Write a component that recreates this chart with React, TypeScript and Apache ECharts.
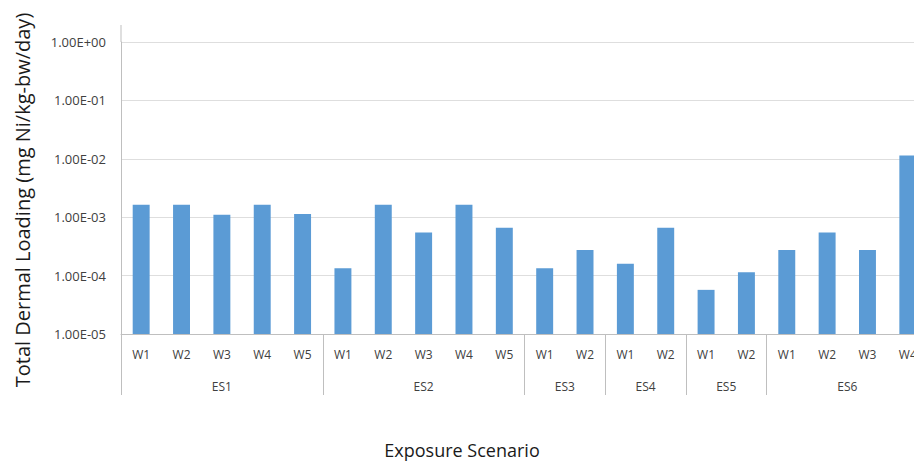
import React, { useEffect, useRef } from "react";
import * as echarts from "echarts";

// Well labels along the lower axis, in plotting order
const categories = [
  "W1", "W2", "W3", "W4", "W5",
  "W1", "W2", "W3", "W4", "W5",
  "W1", "W2",
  "W1", "W2",
  "W1", "W2",
  "W1", "W2", "W3", "W4",
];

// Exposure scenario groups and how many wells each one spans
const groupNames = ["ES1", "ES2", "ES3", "ES4", "ES5", "ES6"];
const groupSizes = [5, 5, 2, 2, 2, 4];

// Total dermal loading, mg Ni/kg-bw/day
const loadings = [
  1.63e-3, 1.63e-3, 1.1e-3, 1.63e-3, 1.14e-3,
  1.34e-4, 1.63e-3, 5.45e-4, 1.63e-3, 6.6e-4,
  1.34e-4, 2.75e-4,
  1.59e-4, 6.6e-4,
  5.7e-5, 1.14e-4,
  2.75e-4, 5.45e-4, 2.75e-4, 1.14e-2,
];

const Y_MIN = 1e-5;
const Y_MAX = 1;

const FONT = "'Open Sans', sans-serif";
const LABEL_COLOR = "#404040";
const LINE_COLOR = "#bfbfbf";

function sciLabel(v: number): string {
  const e = Math.round(Math.log10(v));
  const sign = e < 0 ? "-" : "+";
  return `1.00E${sign}${String(Math.abs(e)).padStart(2, "0")}`;
}

export default function App() {
  const ref = useRef<HTMLDivElement>(null);

  useEffect(() => {
    if (!ref.current) return;
    const chart = echarts.init(ref.current, null, { renderer: "svg" });

    // group boundaries and centres in category units
    const bounds: number[] = [0];
    groupSizes.forEach((n) => bounds.push(bounds[bounds.length - 1] + n));
    const centers = groupSizes.map((n, i) => bounds[i] + n / 2);
    const total = bounds[bounds.length - 1];

    const data = loadings.map((v, i) => [i, v]);

    chart.setOption({
      animation: false,
      backgroundColor: "#ffffff",
      grid: { left: 121, right: 0, top: 42, bottom: 130, containLabel: false },
      xAxis: [
        {
          type: "category",
          data: categories,
          position: "bottom",
          axisLine: { show: true, lineStyle: { color: LINE_COLOR, width: 1 } },
          axisTick: { show: false },
          axisLabel: {
            interval: 0,
            margin: 14,
            color: LABEL_COLOR,
            fontFamily: FONT,
            fontSize: 12,
          },
          splitLine: { show: false },
        },
        {
          type: "value",
          min: 0,
          max: total,
          position: "bottom",
          axisLine: { show: false },
          splitLine: { show: false },
          axisTick: {
            show: true,
            inside: false,
            length: 61,
            customValues: bounds,
            lineStyle: { color: LINE_COLOR, width: 1 },
          },
          axisLabel: {
            show: true,
            margin: 46,
            customValues: centers,
            formatter: (v: number) => {
              const i = centers.findIndex((c) => Math.abs(c - v) < 1e-6);
              return i >= 0 ? groupNames[i] : "";
            },
            color: LABEL_COLOR,
            fontFamily: FONT,
            fontSize: 12,
          },
        },
      ],
      yAxis: {
        type: "log",
        logBase: 10,
        min: Y_MIN,
        max: Y_MAX,
        splitNumber: 5,
        axisLine: { show: true, lineStyle: { color: LINE_COLOR, width: 1 } },
        axisTick: { show: false },
        axisLabel: {
          margin: 15,
          color: LABEL_COLOR,
          fontFamily: FONT,
          fontSize: 13,
          formatter: (v: number) => sciLabel(v),
        },
        splitLine: { show: true, lineStyle: { color: "#dedede", width: 1 } },
      },
      series: [
        {
          type: "custom",
          xAxisIndex: 0,
          yAxisIndex: 0,
          data,
          encode: { x: 0, y: 1 },
          renderItem: (_params: any, api: any) => {
            const idx = api.value(0);
            const top = api.coord([idx, api.value(1)]);
            const base = api.coord([idx, Y_MIN]);
            const w = api.size([1, api.value(1)])[0] * 0.42;
            return {
              type: "rect",
              shape: { x: top[0] - w / 2, y: top[1], width: w, height: base[1] - top[1] },
              style: { fill: "#5b9bd5" },
            };
          },
        },
      ],
      graphic: [
        {
          type: "line",
          shape: { x1: 121, y1: 25, x2: 121, y2: 42 },
          style: { stroke: LINE_COLOR, lineWidth: 1 },
          silent: true,
        },
        {
          type: "text",
          x: 22,
          y: 200,
          rotation: Math.PI / 2,
          style: {
            text: "Total Dermal Loading (mg Ni/kg-bw/day)",
            fontFamily: FONT,
            fontSize: 20,
            fill: "#1a1a1a",
            textAlign: "center",
            textVerticalAlign: "middle",
          },
        },
        {
          type: "text",
          x: 462,
          y: 450,
          style: {
            text: "Exposure Scenario",
            fontFamily: FONT,
            fontSize: 18,
            fill: "#1a1a1a",
            textAlign: "center",
            textVerticalAlign: "middle",
          },
        },
      ],
    });

    return () => chart.dispose();
  }, []);

  return (
    <div
      ref={ref}
      style={{ position: "fixed", left: 0, top: 0, width: 928, height: 464, background: "#fff" }}
    />
  );
}
